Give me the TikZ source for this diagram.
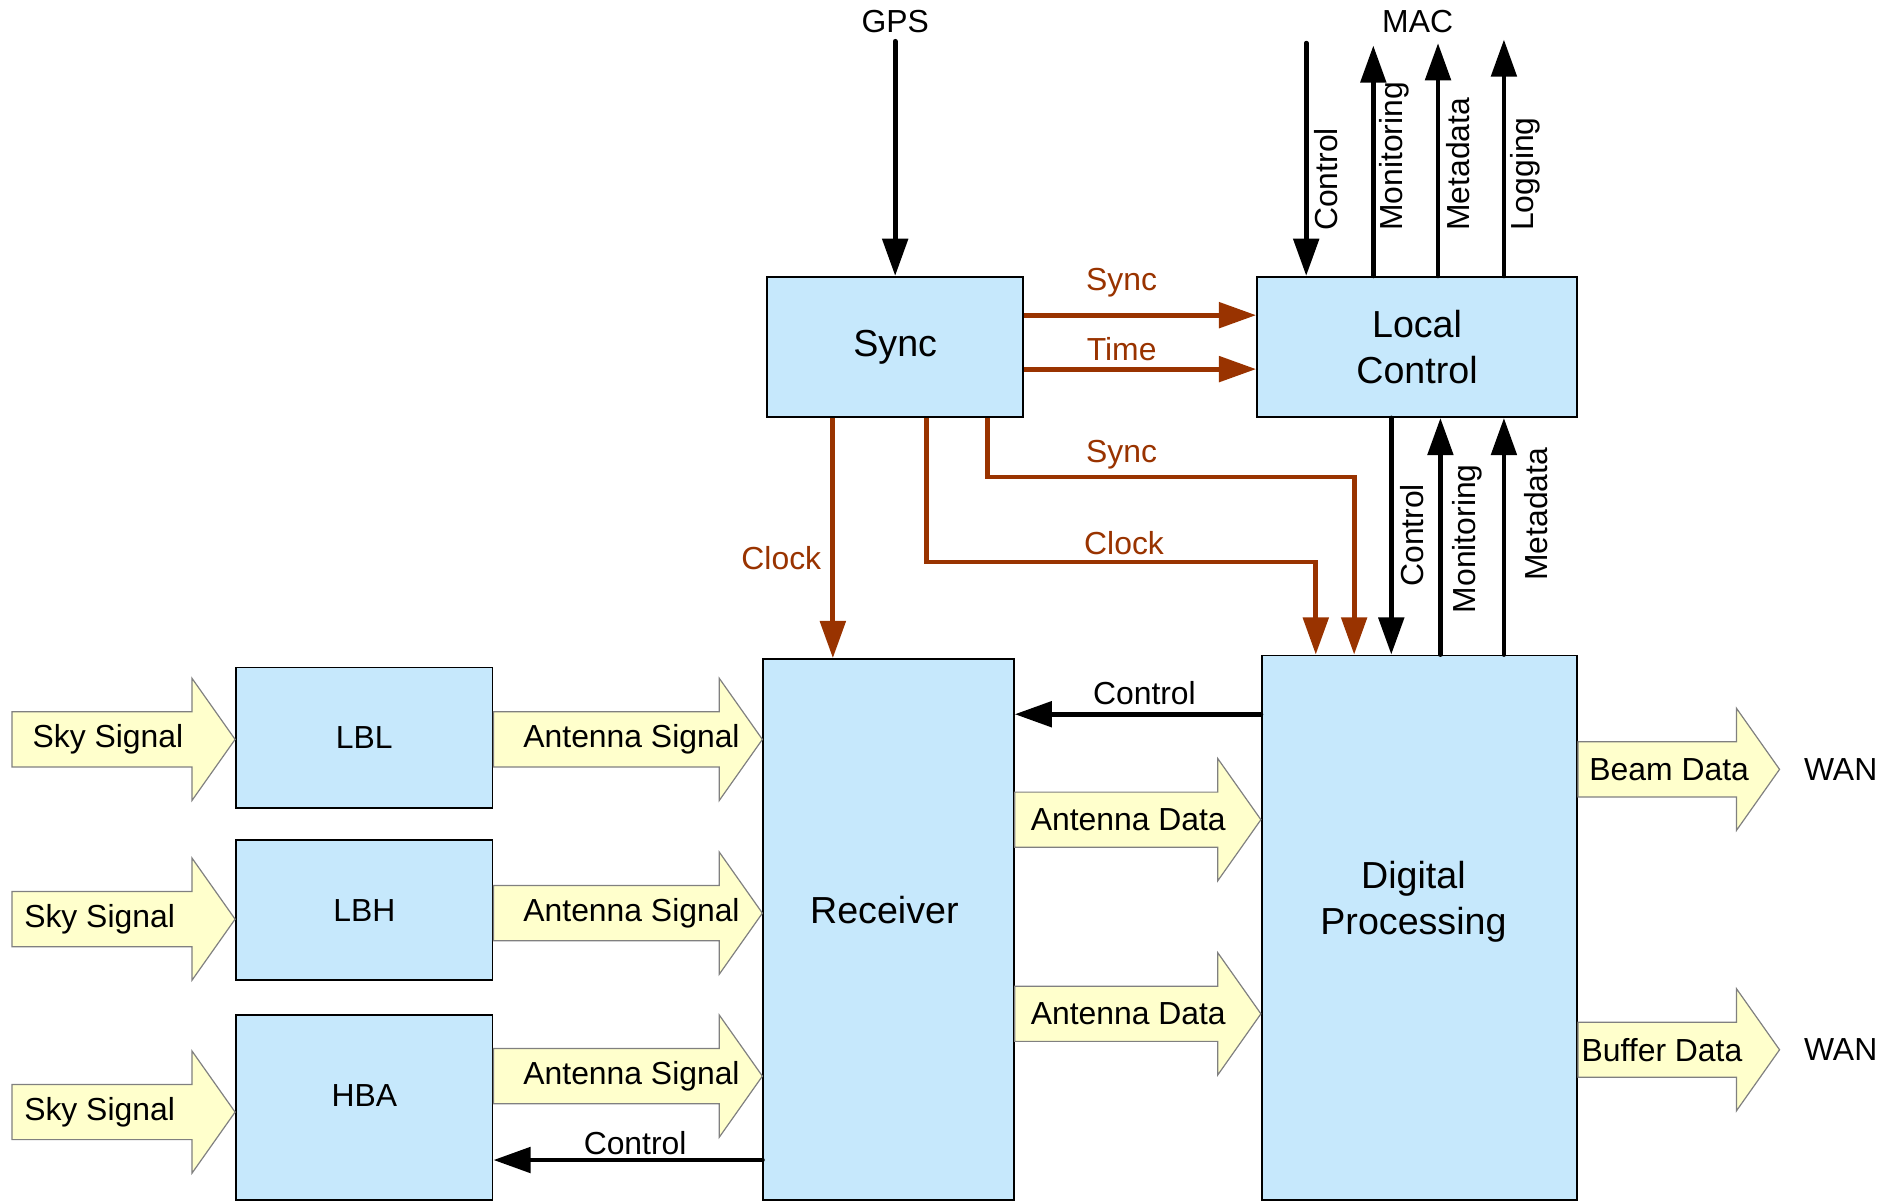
\documentclass[tikz,border=0pt]{standalone}
\usepackage{fontspec}
\setmainfont{Liberation Sans}
\usetikzlibrary{arrows.meta,calc}

\definecolor{boxblue}{RGB}{198,232,252}
\definecolor{sigyellow}{RGB}{255,255,204}
\definecolor{syncred}{RGB}{153,51,0}

% fat signal arrow: [text shift], tail, tip, y, text, name
\newcommand{\bigarrow}[6][-8]{%
  \draw[fatarrow] (#3 |- 0,#4) -- ++(-36,-51) -- ++(0,28) -- (#2 |- 0,#4-23)
    -- (#2 |- 0,#4+23) -- ($(#3 |- 0,#4)+(-36,23)$) -- ++(0,28) -- cycle;
  \node[txt] (#6) at ($(#2 |- 0,#4)!0.5!(#3 |- 0,#4)+(#1,0)$) {#5};}

\begin{document}
\begin{tikzpicture}[x=0.5pt, y=-0.5pt, >={Triangle[length=15.5pt,width=10.5pt]},
  blk/.style={draw, line width=0.8pt, fill=boxblue, inner sep=0pt},
  txt/.style={font=\fontsize{13.3}{15}\selectfont},
  big/.style={font=\fontsize{15.7}{19}\selectfont, align=center},
  ctl/.style={->, line width=2pt, line cap=round},
  clk/.style={->, line width=2pt, draw=syncred},
  redtxt/.style={txt, text=syncred},
  vtxt/.style={txt, rotate=90, anchor=base west, inner sep=0pt},
  fatarrow/.style={fill=sigyellow, draw=gray, line width=0.5pt}]
  \useasboundingbox (0,0) rectangle (1568,1003);

  % boxes
  \node[blk, big, minimum width=107pt, minimum height=58.5pt] (sync) at (747,289.5) {Sync};
  \node[blk, big, minimum width=133.5pt, minimum height=58.5pt] (lc) at (1182.5,289.5) {Local\\Control};
  \node[blk, minimum width=104.5pt, minimum height=225.5pt,
    label={[big, xshift=-1.75pt, yshift=8.25pt]center:Receiver}] (rcv) at (741.5,775.5) {};
  \node[blk, minimum width=131.5pt, minimum height=227pt,
    label={[big, xshift=-2.5pt, yshift=10.75pt]center:Digital\\Processing}] (dp) at (1184.5,774) {};
  \node[blk, txt, minimum width=107pt, minimum height=58.5pt] (lbl) at (304,615.5) {LBL};
  \node[blk, txt, minimum width=107pt, minimum height=58.5pt] (lbh) at (304,759.5) {LBH};
  \node[blk, minimum width=107pt, minimum height=77pt,
    label={[txt, yshift=5pt]center:HBA}] (hba) at (304,924) {};

  % sky and antenna signals
  \coordinate (sky1) at (10,617);
  \coordinate (sky2) at (10,767);
  \coordinate (sky3) at (10,928);
  \bigarrow[-13]{sky1}{lbl.west}{617}{Sky Signal}{sky1-t}
  \bigarrow[-20]{sky2}{lbh.west}{767}{Sky Signal}{sky2-t}
  \bigarrow[-20]{sky3}{hba.west}{928}{Sky Signal}{sky3-t}
  \bigarrow[3]{lbl.east}{rcv.west}{617}{Antenna Signal}{ant1-t}
  \bigarrow[3]{lbh.east}{rcv.west}{762}{Antenna Signal}{ant2-t}
  \bigarrow[3]{hba.east}{rcv.west}{898}{Antenna Signal}{ant3-t}
  \bigarrow{rcv.east}{dp.west}{684}{Antenna Data}{dat1-t}
  \bigarrow{rcv.east}{dp.west}{846}{Antenna Data}{dat2-t}

  % outputs to WAN
  \node[txt] (wan1) at (1536,642) {WAN};
  \node[txt] (wan2) at (1536,876) {WAN};
  \coordinate (wan1-tip) at (1485,642);
  \coordinate (wan2-tip) at (1485,876);
  \bigarrow{dp.east}{wan1-tip}{642}{Beam Data}{beam-t}
  \bigarrow[-14]{dp.east}{wan2-tip}{876}{Buffer Data}{buf-t}

  % GPS and MAC
  \node[txt] (gps) at (747,18) {GPS};
  \draw[ctl] (gps.south) -- (sync.north);
  \node[txt] (mac) at (1183,18) {MAC};
  \coordinate (mac1) at (1090,36);
  \coordinate (mac2) at (1146,38);
  \coordinate (mac3) at (1200,36);
  \coordinate (mac4) at (1255,33);
  \draw[ctl] (mac1) -- (mac1 |- lc.north);
  \draw[ctl] (mac2 |- lc.north) -- (mac2);
  \draw[ctl] (mac3 |- lc.north) -- (mac3);
  \draw[ctl] (mac4 |- lc.north) -- (mac4);
  \node[vtxt] (mac1-t) at (1116,193) {Control};
  \node[vtxt] (mac2-t) at (1170,193) {Monitoring};
  \node[vtxt] (mac3-t) at (1226,193) {Metadata};
  \node[vtxt] (mac4-t) at (1280,193) {Logging};

  % local control <-> digital processing
  \coordinate (lc1) at ([xshift=-10.75pt]lc.south);
  \coordinate (lc2) at ([xshift=9.75pt]lc.south);
  \coordinate (lc3) at ([xshift=36.25pt]lc.south);
  \draw[ctl] (lc1) -- (lc1 |- dp.north);
  \draw[ctl] (lc2 |- dp.north) -- (lc2);
  \draw[ctl] (lc3 |- dp.north) -- (lc3);
  \node[vtxt] (lc1-t) at (1188,490) {Control};
  \node[vtxt] (lc2-t) at (1231,512) {Monitoring};
  \node[vtxt] (lc3-t) at (1291,485) {Metadata};

  % sync and clock
  \coordinate (s1) at ([yshift=13.25pt]sync.east);
  \coordinate (s2) at ([yshift=-9.25pt]sync.east);
  \draw[clk] (s1) -- (s1 -| lc.west);
  \draw[clk] (s2) -- (s2 -| lc.west);
  \node[redtxt] (s1-t) at (936,236) {Sync};
  \node[redtxt] (s2-t) at (936,291) {Time};
  \coordinate (c0) at ([xshift=-26pt]sync.south);
  \draw[clk] (c0) -- (c0 |- rcv.north);
  \node[redtxt] (c0-t) at (652,466) {Clock};
  \coordinate (c1) at ([xshift=13pt]sync.south);
  \coordinate (c1turn) at (1098,469);
  \draw[clk] (c1) |- (c1turn) -- (c1turn |- dp.north);
  \node[redtxt] (c1-t) at (938,453) {Clock};
  \coordinate (c2) at ([xshift=38.5pt]sync.south);
  \coordinate (c2turn) at (1130,398);
  \draw[clk] (c2) |- (c2turn) -- (c2turn |- dp.north);
  \node[redtxt] (c2-t) at (936,379) {Sync};

  % control to receiver and HBA
  \coordinate (k1) at ([yshift=89pt]dp.west);
  \draw[ctl] (k1) -- (k1 -| rcv.east);
  \node[txt] (k1-t) at (955,578) {Control};
  \coordinate (k2) at ([yshift=-96.25pt]rcv.west);
  \draw[ctl] (k2) -- (k2 -| hba.east);
  \node[txt] (k2-t) at (530,954) {Control};
\end{tikzpicture}
\end{document}
